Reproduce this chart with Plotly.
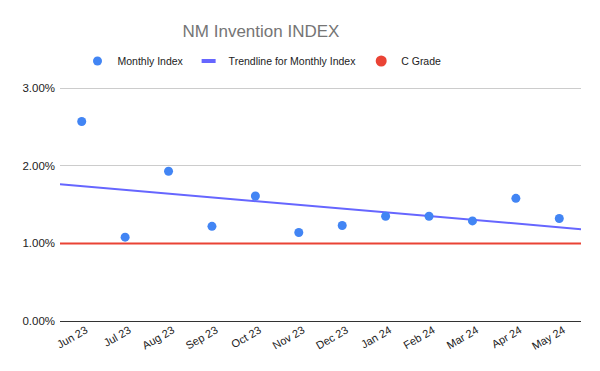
import numpy as np
import plotly.graph_objects as go

months = ["Jun 23", "Jul 23", "Aug 23", "Sep 23", "Oct 23", "Nov 23",
          "Dec 23", "Jan 24", "Feb 24", "Mar 24", "Apr 24", "May 24"]
monthly_index = [0.0257, 0.0108, 0.0193, 0.0122, 0.0161, 0.0114,
                 0.0123, 0.0135, 0.0135, 0.0129, 0.0158, 0.0132]
c_grade = 0.01
y_ticks = [0, 0.01, 0.02, 0.03]

idx = np.arange(len(months))
slope, intercept = np.polyfit(idx, monthly_index, 1)
x_range = [-0.5, len(months) - 0.5]
trend_y = [slope * x + intercept for x in x_range]

BLUE = "#4285F4"
TREND = "#6666FF"
RED = "#EA4335"
FONT = "Liberation Sans, Arial, sans-serif"

# the page body has an 8px margin, so the figure is sized to fit the window
W, H = 592, 363

fig = go.Figure()
fig.add_trace(go.Scatter(x=x_range, y=[c_grade, c_grade], mode="lines",
                         line=dict(color=RED, width=2), showlegend=False,
                         hoverinfo="skip"))
fig.add_trace(go.Scatter(x=x_range, y=trend_y, mode="lines",
                         line=dict(color=TREND, width=2), showlegend=False,
                         hoverinfo="skip"))
fig.add_trace(go.Scatter(x=idx, y=monthly_index, mode="markers",
                         marker=dict(color=BLUE, size=9), name="Monthly Index"))
fig.add_trace(go.Scatter(x=[None], y=[None], mode="markers",
                         marker=dict(symbol="line-ew", size=10, color=TREND,
                                     line=dict(color=TREND, width=4)),
                         name="Trendline for Monthly Index"))
fig.add_trace(go.Scatter(x=[None], y=[None], mode="markers",
                         marker=dict(color=RED, size=11), name="C Grade"))

fig.update_layout(
    width=W, height=H,
    margin=dict(l=52, r=19, t=79, b=50, autoexpand=False),
    paper_bgcolor="white", plot_bgcolor="white",
    font=dict(family=FONT, size=11, color="#222222"),
    title=dict(text="NM Invention INDEX", x=253/W, xanchor="center",
               y=1 - 23/H, yanchor="middle", yref="container",
               font=dict(family=FONT, size=17, color="#757575")),
    legend=dict(orientation="h", xref="container", yref="container",
                x=254/W, xanchor="center", y=1 - 53/H, yanchor="middle",
                font=dict(size=10.5, color="#222222"), itemwidth=30,
                traceorder="normal"),
    showlegend=True,
)
fig.update_xaxes(range=x_range, tickmode="array", tickvals=list(idx),
                 ticktext=months, tickangle=-30, showgrid=False,
                 zeroline=False, showline=False, ticks="", automargin=False,
                 ticklabelshift=4,
                 tickfont=dict(size=11, color="#222222"))
fig.update_yaxes(range=[0, 0.03015], tickmode="array", tickvals=y_ticks,
                 tickformat=".2%", showgrid=True, gridcolor="#CCCCCC",
                 gridwidth=1, zeroline=True, zerolinecolor="#333333",
                 zerolinewidth=1, showline=False, ticks="", automargin=False,
                 ticklabelstandoff=4,
                 tickfont=dict(size=11.5, color="#222222"))

fig.write_html("out.html")
